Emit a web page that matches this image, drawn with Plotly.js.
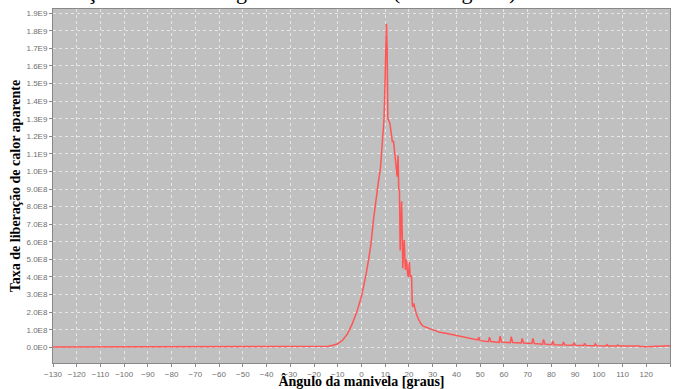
<!DOCTYPE html>
<html>
<head>
<meta charset="utf-8">
<script src="https://cdn.plot.ly/plotly-3.0.1.min.js"></script>
<style>html,body{margin:0;padding:0;background:#fff;}#chart{width:675px;height:389px;}</style>
</head>
<body>
<div id="chart"></div>
<script>
// Crank angle [degrees]
const angle = [
  -130, -20, -15, -14, -12, -10, -8, -6, -4, -2, 0, 1, 2, 3, 4, 5, 6, 7, 8, 9, 9.5, 10, 10.5, 10.8,
  11.1, 11.5, 12, 12.5, 13, 13.5, 14, 14.5, 15, 15.4, 15.7, 16, 16.3, 16.6, 16.9, 17.2, 17.4, 17.7,
  18, 18.3, 18.5, 18.8, 19.1, 19.4, 19.7, 20.2, 20.5, 20.8, 21.1, 21.4, 21.6, 22, 22.5, 23, 24, 25,
  26, 28, 30, 33, 36, 40, 44, 47, 49, 49.4, 50, 53.5, 53.9, 54.5, 58, 58.4, 59, 62.7, 63.1, 63.7,
  67.3, 67.7, 68.3, 71.8, 72.2, 72.8, 76.3, 76.7, 77.3, 80.2, 80.6, 81.2, 84.7, 85.1, 85.7, 89.1,
  89.5, 90.1, 93.6, 94, 94.6, 98.1, 98.5, 99.1, 103, 103.4, 104, 107.5, 108, 108.5, 112, 112.4, 113,
  116.5, 117, 117.5, 120, 125, 130
];
// Apparent heat release rate, in units of 1E8
const heatRelease1e8 = [
  0.02, 0.02, 0.02, 0.06, 0.12, 0.2, 0.4, 0.75, 1.3, 2.0, 2.9, 3.5, 4.2, 5.0, 5.9, 7.2, 8.4, 9.3, 10.2, 11.8, 13.0, 15.5, 18.4, 17.0,
  13.0, 12.9, 12.7, 12.2, 11.7, 11.7, 11.2, 10.4, 9.7, 10.9, 9.0, 8.9, 5.5, 7.0, 8.3, 6.1, 4.5, 5.5,
  6.1, 5.0, 4.4, 5.0, 4.8, 4.2, 4.0, 4.85, 4.0, 4.1, 4.0, 2.5, 2.3, 2.5, 2.1, 1.95, 1.6, 1.35,
  1.2, 1.1, 0.98, 0.85, 0.78, 0.68, 0.58, 0.5, 0.42, 0.57, 0.38, 0.32, 0.57, 0.33, 0.28, 0.63, 0.3, 0.26, 0.6, 0.27,
  0.24, 0.5, 0.24, 0.22, 0.5, 0.22, 0.18, 0.45, 0.18, 0.15, 0.35, 0.15, 0.13, 0.3, 0.13, 0.12,
  0.25, 0.12, 0.1, 0.22, 0.1, 0.09, 0.2, 0.09, 0.08, 0.15, 0.08, 0.07, 0.13, 0.07, 0.06, 0.1, 0.06,
  0.05, 0.08, 0.04, 0.03, 0.06, 0.09
];
const xTickVals = [-130,-120,-110,-100,-90,-80,-70,-60,-50,-40,-30,-20,-10,0,10,20,30,40,50,60,70,80,90,100,110,120,130];
const yTickVals = [0,1e8,2e8,3e8,4e8,5e8,6e8,7e8,8e8,9e8,1e9,1.1e9,1.2e9,1.3e9,1.4e9,1.5e9,1.6e9,1.7e9,1.8e9,1.9e9];
const yTickText = ["0.0E0","1.0E8","2.0E8","3.0E8","4.0E8","5.0E8","6.0E8","7.0E8","8.0E8","9.0E8","1.0E9","1.1E9","1.2E9","1.3E9","1.4E9","1.5E9","1.6E9","1.7E9","1.8E9","1.9E9"];
const titleText = "Taxa de liberação de calor x ângulo da manivela (Joules/graus)";
const xTitle = "Ângulo da manivela [graus]";
const yTitle = "Taxa de liberação de calor aparente";

const yValues = heatRelease1e8.map(v => v * 1e8);

const trace = {
  x: angle, y: yValues, type: "scatter", mode: "lines",
  line: {color: "#ff5555", width: 1.5},
  hoverinfo: "skip", showlegend: false
};

const tickFont = {family: "Liberation Sans, Arial, sans-serif", size: 8, color: "#707070"};
const axTitleFont = {family: "Liberation Serif, Times New Roman, serif", size: 14, color: "#000"};

const layout = {
  width: 675, height: 389,
  margin: {l: 53, r: 5, t: 9, b: 26, pad: 0},
  paper_bgcolor: "#ffffff",
  plot_bgcolor: "#c0c0c0",
  title: {
    text: titleText,
    font: {family: "Liberation Serif, Times New Roman, serif", size: 22, color: "#000"},
    xref: "container", yref: "container",
    x: 0.765, xanchor: "right",
    y: 1, yanchor: "bottom",
    pad: {b: 1}
  },
  xaxis: {
    range: [-130, 130],
    tickvals: xTickVals,
    tickangle: 0,
    ticks: "outside", ticklen: 3, tickcolor: "#888",
    tickfont: tickFont,
    showgrid: true, gridcolor: "#e6e6e6", griddash: "dot", gridwidth: 1,
    zeroline: false,
    showline: true, linecolor: "#888", linewidth: 1, mirror: true,
    title: {text: "<b>" + xTitle + "</b>", font: axTitleFont, standoff: 6}
  },
  yaxis: {
    range: [-0.893e8, 19.24e8],
    tickvals: yTickVals, ticktext: yTickText,
    ticks: "outside", ticklen: 3, tickcolor: "#888",
    tickfont: tickFont,
    showgrid: true, gridcolor: "#e6e6e6", griddash: "dot", gridwidth: 1,
    zeroline: false,
    showline: true, linecolor: "#888", linewidth: 1, mirror: true,
    title: {text: "<b>" + yTitle + "</b>", font: axTitleFont, standoff: 2}
  }
};

Plotly.newPlot("chart", [trace], layout, {staticPlot: true, displayModeBar: false});
</script>
</body>
</html>
